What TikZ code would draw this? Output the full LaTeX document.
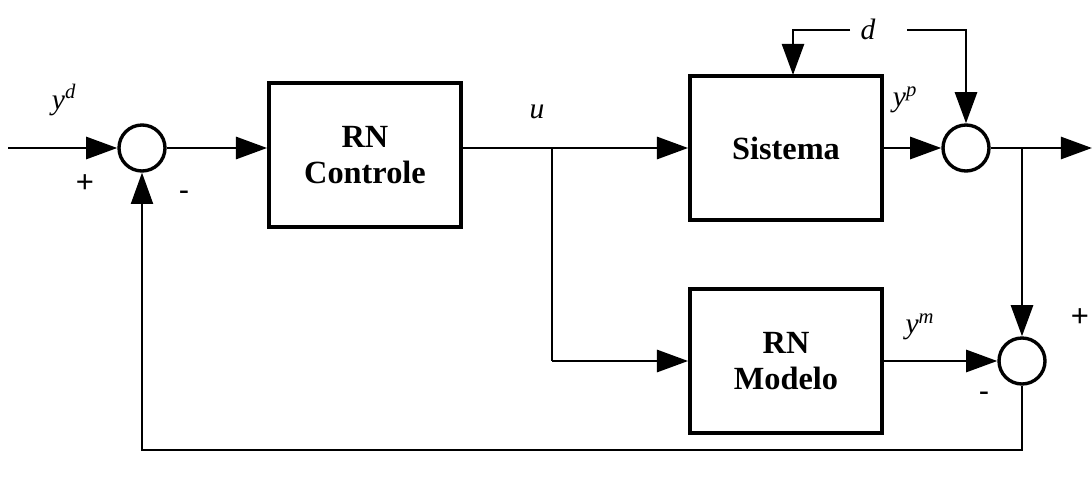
\documentclass[tikz,border=0pt]{standalone}
\usepackage{fontspec}
\setmainfont{Liberation Serif}
\newfontfamily\signfont{Liberation Sans}
\usepackage{tikz}
\usetikzlibrary{arrows.meta,calc}
\tikzstyle{block}=[draw, line width=2.6pt, minimum width=4.8cm, minimum height=3.6cm, align=center, font=\fontsize{23}{25}\selectfont\bfseries]
\tikzstyle{summer}=[draw, circle, line width=2.4pt, minimum size=1.15cm, inner sep=0pt]
\tikzstyle{signal}=[line width=2.1pt, -{Triangle[length=0.78cm, width=0.55cm]}]
\tikzstyle{wire}=[line width=1.7pt]
\tikzstyle{lbl}=[font=\fontsize{21}{24}\selectfont\itshape, inner sep=0pt]
\tikzstyle{sgn}=[font=\fontsize{22}{24}\selectfont\signfont, inner sep=0pt]

\begin{document}
\begin{tikzpicture}[x=0.025cm, y=-0.025cm]
	\useasboundingbox (0,0) rectangle (1092,479);
	% blocks and summers
	\node[summer] (s1) at (142,148) {};
	\node[block] (ctrl) at (365,155) {RN\\Controle};
	\node[block] (sys) at (786,148) {Sistema};
	\node[block] (mod) at (786,361) {RN\\Modelo};
	\node[summer] (s2) at (966,148) {};
	\node[summer] (s3) at (1022,361) {};
	% free ends and branch points
	\coordinate (in) at (8,148);
	\coordinate (out) at (1092,148);
	\coordinate (br) at (552,148);
	\coordinate (dl) at (850,30);
	\coordinate (dr) at (907,30);
	% signals
	\draw[signal] (in) -- (s1.west);
	\draw[signal] (s1.east) -- (s1.east -| ctrl.west);
	\draw[wire, line width=2.1pt] (ctrl.east |- br) -- (br);
	\draw[signal] (br) -- (sys.west);
	\draw[wire] (br) -- (br |- mod.west);
	\draw[signal] (br |- mod.west) -- (mod.west);
	\draw[signal] (sys.east) -- (s2.west);
	\draw[signal] (s2.east) -- (out);
	\draw[wire] (s2.east -| s3.north) -- ++(0,150);
	\draw[signal] (s2.east -| s3.north) ++(0,150) -- (s3.north);
	\draw[signal] (mod.east) -- (s3.west);
	\draw[wire] (dl) -- (793,30) -- ++(0,10);
	\draw[signal] (793,40) -- (793,75);
	\draw[wire] (dr) -- (966,30) -- (966,60);
	\draw[signal] (966,60) -- (s2.north);
	% feedback
	\draw[wire, line width=1.4pt] (s3.south) -- ++(0,64) -| (142,260);
	\draw[signal, line width=1.4pt] (142,260) -- (s1.south);
	% labels
	\node[lbl] (yd) at (64,100) {y\textsuperscript{d}};
	\node[lbl] (u) at (537,112) {u};
	\node[lbl] (d) at (868,29) {d};
	\node[lbl] (yp) at (905,100) {y\textsuperscript{p}};
	\node[lbl] (ym) at (920,327) {y\textsuperscript{m}};
	\node[sgn] (p1) at (85,184) {+};
	\node[sgn] (m1) at (184,196) {-};
	\node[sgn] (p3) at (1080,318) {+};
	\node[sgn] (m3) at (984,397) {-};
\end{tikzpicture}
\end{document}
